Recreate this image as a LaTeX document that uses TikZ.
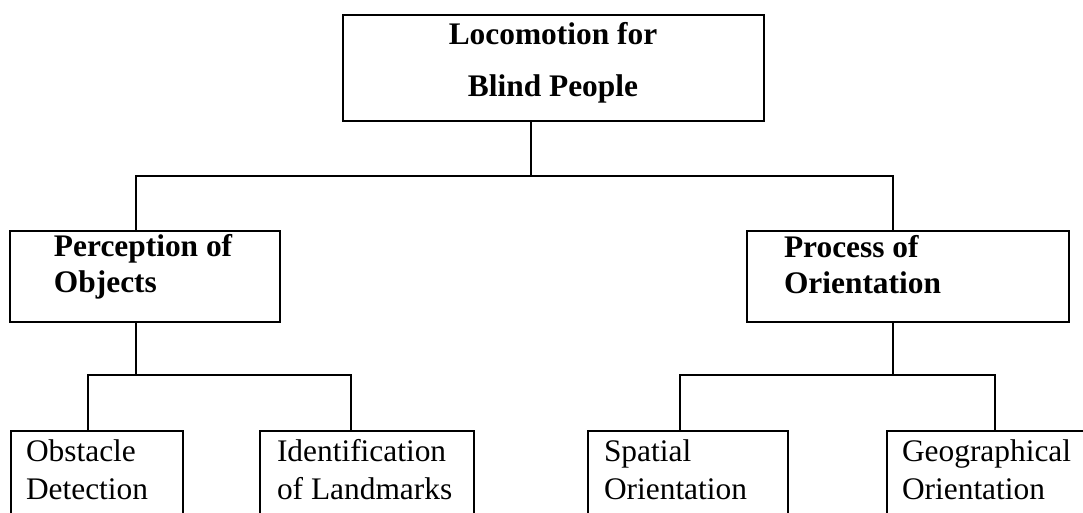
\documentclass[tikz,border=0pt]{standalone}
\usepackage{fontspec}
\setmainfont{Liberation Serif}
\begin{document}
\begin{tikzpicture}[x=0.5pt,y=-0.5pt,line width=1pt,
  box/.style={draw,line width=1pt,rectangle,inner sep=0pt,anchor=north west},
  toptxt/.style={inner sep=0pt,anchor=base,font=\fontsize{15.7}{26}\selectfont\bfseries},
  midtxt/.style={inner sep=0pt,anchor=base west,font=\fontsize{15.7}{17.75}\selectfont\bfseries},
  lowtxt/.style={inner sep=0pt,anchor=base west,font=\fontsize{15.7}{19}\selectfont}]
\useasboundingbox (0,0) rectangle (1083,513);
\clip (0,0) rectangle (1083,513);
% boxes
\node[box,minimum width=210.5pt,minimum height=53pt] (top) at (342,14) {};
\node[box,minimum width=135pt,minimum height=45.5pt] (perc) at (9,230) {};
\node[box,minimum width=161pt,minimum height=45.5pt] (proc) at (746,230) {};
\node[box,minimum width=86.25pt,minimum height=60pt] (obst) at (9.5,430) {};
\node[box,minimum width=107pt,minimum height=60pt] (iden) at (259,430) {};
\node[box,minimum width=100pt,minimum height=60pt] (spat) at (587,430) {};
\node[box,minimum width=107pt,minimum height=60pt] (geog) at (886,430) {};
% texts
\node[toptxt] (ttop) at (553,45) {\begin{tabular}[t]{@{}c@{}}Locomotion for\\Blind People\end{tabular}};
\node[midtxt] (tperc) at (53,257) {\begin{tabular}[t]{@{}l@{}}Perception of\\Objects\end{tabular}};
\node[midtxt] (tproc) at (783,258) {\begin{tabular}[t]{@{}l@{}}Process of\\Orientation\end{tabular}};
\node[lowtxt] (tobst) at (25,462) {\begin{tabular}[t]{@{}l@{}}Obstacle\\Detection\end{tabular}};
\node[lowtxt] (tiden) at (276,462) {\begin{tabular}[t]{@{}l@{}}Identification\\of Landmarks\end{tabular}};
\node[lowtxt] (tspat) at (603,462) {\begin{tabular}[t]{@{}l@{}}Spatial\\Orientation\end{tabular}};
\node[lowtxt] (tgeog) at (901,462) {\begin{tabular}[t]{@{}l@{}}Geographical\\Orientation\end{tabular}};
% junctions
\coordinate (j0) at (531,176);
\coordinate (jp) at (136,176);
\coordinate (jq) at (893,176);
\coordinate (k1) at (136,375);
\coordinate (k1a) at (88,375);
\coordinate (k1b) at (351,375);
\coordinate (k2) at (893,375);
\coordinate (k2a) at (680,375);
\coordinate (k2b) at (995,375);
% connectors
\draw (top.south -| j0) -- (j0);
\draw (perc.north -| jp) -- (jp) -- (jq) -- (proc.north -| jq);
\draw (perc.south -| k1) -- (k1);
\draw (obst.north -| k1a) -- (k1a) -- (k1b) -- (iden.north -| k1b);
\draw (proc.south -| k2) -- (k2);
\draw (spat.north -| k2a) -- (k2a) -- (k2b) -- (geog.north -| k2b);
\end{tikzpicture}
\end{document}
